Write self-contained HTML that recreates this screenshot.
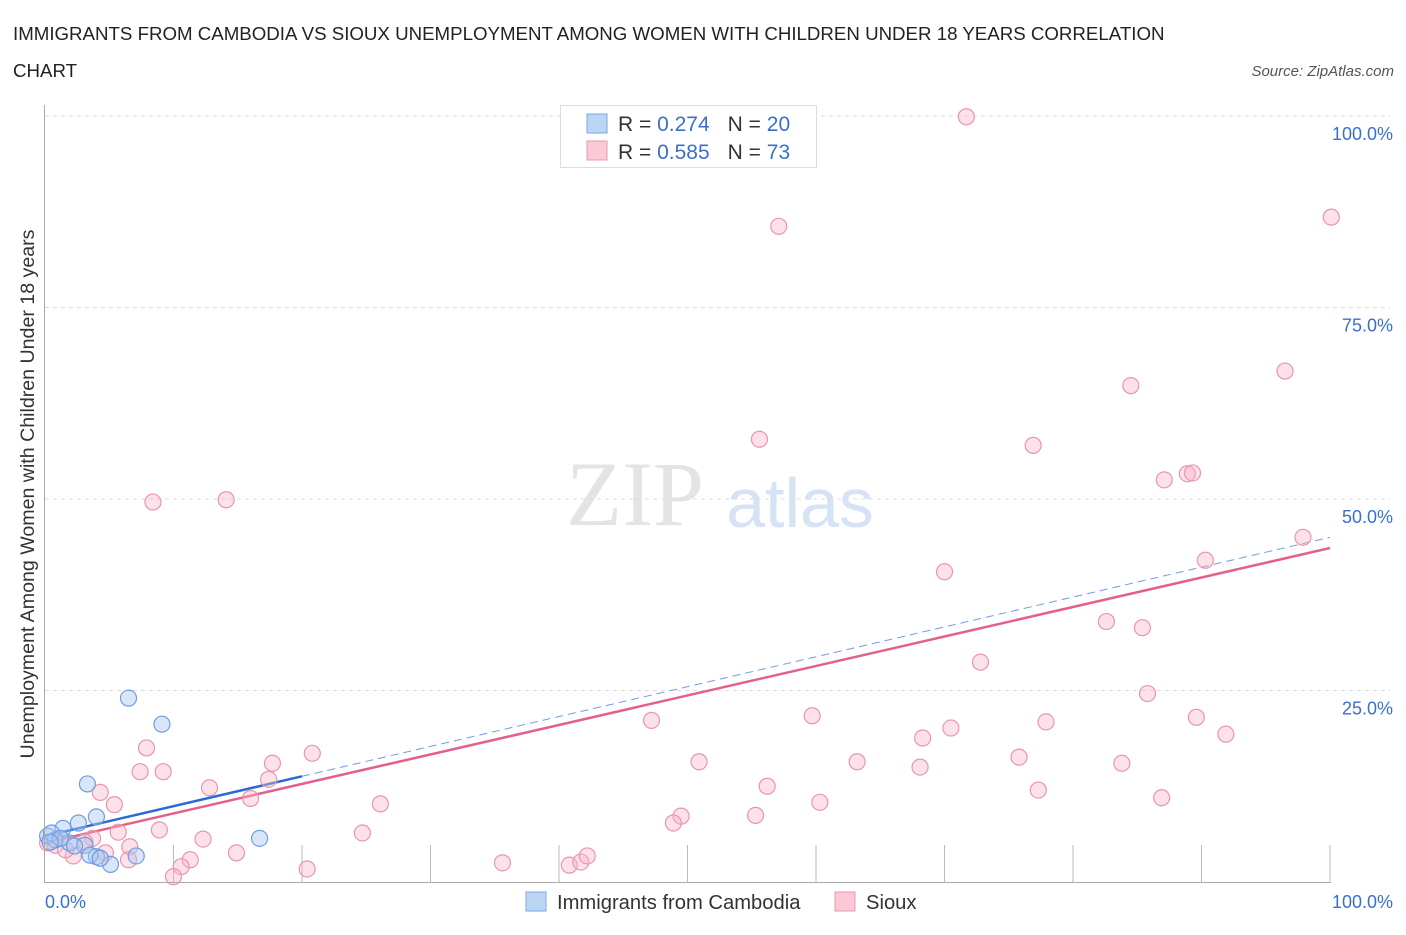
<!DOCTYPE html>
<html><head><meta charset="utf-8"><style>
body{margin:0;background:#fff;font-family:"Liberation Sans",sans-serif;}
</style></head><body>
<svg width="1406" height="930" xmlns="http://www.w3.org/2000/svg" font-family="Liberation Sans, sans-serif">
<text x="13" y="40" font-size="18.7" fill="#222">IMMIGRANTS FROM CAMBODIA VS SIOUX UNEMPLOYMENT AMONG WOMEN WITH CHILDREN UNDER 18 YEARS CORRELATION</text>
<text x="13" y="77" font-size="18.7" fill="#222">CHART</text>
<text x="1394" y="76" font-size="15" fill="#555" font-style="italic" text-anchor="end">Source: ZipAtlas.com</text>
<text x="635" y="525" font-size="92" fill="#e4e4e4" font-family="Liberation Serif, serif" text-anchor="middle">ZIP</text>
<text x="800" y="527" font-size="70" fill="#d6e3f5" text-anchor="middle">atlas</text>
<g id="grid"></g>
<g id="trend"></g>
<g id="pts"></g>
<line x1="44.5" y1="105" x2="44.5" y2="882" stroke="#aaa"/>
<line x1="44" y1="882.5" x2="1331" y2="882.5" stroke="#aaa"/>
<text transform="translate(34,494) rotate(-90)" font-size="19.6" fill="#333" text-anchor="middle">Unemployment Among Women with Children Under 18 years</text>
<text x="45" y="908" font-size="18" fill="#3a6fd0">0.0%</text>
<text x="1393" y="908" font-size="18" fill="#3a6fd0" text-anchor="end">100.0%</text>
<g>
<rect x="560.5" y="105.5" width="256" height="62" fill="#fff" stroke="#ddd"/>
<rect x="587" y="114" width="20" height="19" fill="#bcd5f5" stroke="#7aa6e0"/>
<rect x="587" y="141" width="20" height="19" fill="#fbc9d6" stroke="#e897b0"/>
<text x="618" y="131" font-size="21" fill="#333">R = <tspan fill="#3a6fd0">0.274</tspan><tspan dx="18">N = </tspan><tspan fill="#3a6fd0">20</tspan></text>
<text x="618" y="159" font-size="21" fill="#333">R = <tspan fill="#3a6fd0">0.585</tspan><tspan dx="18">N = </tspan><tspan fill="#3a6fd0">73</tspan></text>
</g>
<g>
<rect x="526" y="892" width="20" height="19" fill="#bcd5f5" stroke="#7aa6e0"/>
<text x="557" y="909" font-size="20.2" fill="#333">Immigrants from Cambodia</text>
<rect x="835" y="892" width="20" height="19" fill="#fbc9d6" stroke="#e897b0"/>
<text x="866" y="909" font-size="20.2" fill="#333">Sioux</text>
</g>
</svg>
<script>
const blueX=[6.5,9.1,3.3,4.0,2.6,1.4,0.2,0.8,1.9,3.1,4.0,3.5,5.1,7.1,16.7,0.5,1.2,2.3,4.3,0.4];
const blueY=[24.0,20.6,12.8,8.5,7.7,7.0,6.0,5.5,5.1,4.8,3.3,3.5,2.3,3.4,5.7,6.4,5.7,4.7,3.1,5.2];
const pinkX=[71.7,57.1,100.1,96.5,84.5,55.6,76.9,87.1,88.9,89.3,8.4,14.1,97.9,90.3,70.0,82.6,85.4,72.8,85.8,47.2,59.7,70.5,77.9,89.6,91.9,68.3,75.8,50.9,63.2,68.1,83.8,7.9,7.4,9.2,17.7,20.8,17.4,4.3,12.8,16.0,5.4,26.1,56.2,60.3,86.9,77.3,49.5,48.9,55.3,5.7,8.9,24.7,3.7,12.3,14.9,6.6,4.7,11.3,6.5,2.2,10.6,10.0,20.4,35.6,40.8,41.7,42.2,0.8,3.1,0.2,1.6,1.2];
const pinkY=[99.9,85.6,86.8,66.7,64.8,57.8,57.0,52.5,53.3,53.4,49.6,49.9,45.0,42.0,40.5,34.0,33.2,28.7,24.6,21.1,21.7,20.1,20.9,21.5,19.3,18.8,16.3,15.7,15.7,15.0,15.5,17.5,14.4,14.4,15.5,16.8,13.4,11.7,12.3,10.9,10.1,10.2,12.5,10.4,11.0,12.0,8.6,7.7,8.7,6.5,6.8,6.4,5.7,5.6,3.8,4.6,3.8,2.9,2.9,3.4,2.0,0.7,1.7,2.5,2.2,2.6,3.4,4.8,5.2,5.1,4.2,5.7];
const blueTrend=[6.0,0.39], blueSolidEnd=20;
const pinkTrend=[5.1,0.385];
const yTicks=[25,50,75,100];
const xTicks=[0,10,20,30,40,50,60,70,80,90,100];
const sx=v=>45+v*12.85, sy=v=>882-v*7.66;
const NS='http://www.w3.org/2000/svg';
function mk(t,a,p){const e=document.createElementNS(NS,t);for(const k in a)e.setAttribute(k,a[k]);p.appendChild(e);return e;}
const grid=document.getElementById('grid');
yTicks.forEach(v=>{
 const l=mk('line',{x1:45,x2:1390,y1:sy(v),y2:sy(v),stroke:'#ddd','stroke-dasharray':'4,4'},grid);
 
 
 const t=mk('text',{x:1393,y:sy(v)+24,'font-size':18,fill:'#3a6fd0','text-anchor':'end'},grid);
 t.textContent=v.toFixed(1)+'%';
 
 
});
xTicks.forEach(v=>{
 if(v===0)return;
 const l=mk('line',{x1:sx(v),x2:sx(v),y1:845,y2:882,stroke:'#bbb'},grid);
 
 
});
const pts=document.getElementById('pts');
pinkX.forEach((x,i)=>{
 const c=mk('circle',{cx:sx(x),cy:sy(pinkY[i]),r:8,fill:'rgba(248,180,200,0.4)',stroke:'#e995b0','stroke-width':1.2},pts);
 
 
});
blueX.forEach((x,i)=>{
 const c=mk('circle',{cx:sx(x),cy:sy(blueY[i]),r:8,fill:'rgba(170,200,240,0.45)',stroke:'#6f9de0','stroke-width':1.2},pts);
 
 
});
const tr=document.getElementById('trend');
const bl=mk('line',{x1:sx(0),y1:sy(blueTrend[0]),x2:sx(blueSolidEnd),y2:sy(blueTrend[0]+blueTrend[1]*blueSolidEnd),stroke:'#2a6ad6','stroke-width':2.5},tr);


const bd=mk('line',{x1:sx(blueSolidEnd),y1:sy(blueTrend[0]+blueTrend[1]*blueSolidEnd),x2:sx(100),y2:sy(blueTrend[0]+blueTrend[1]*100),stroke:'#6f9de0','stroke-width':1,'stroke-dasharray':'8,5'},tr);


const pl=mk('line',{x1:sx(0),y1:sy(pinkTrend[0]),x2:sx(100),y2:sy(pinkTrend[0]+pinkTrend[1]*100),stroke:'#e4608c','stroke-width':2.5},tr);


</script>
</body></html>
